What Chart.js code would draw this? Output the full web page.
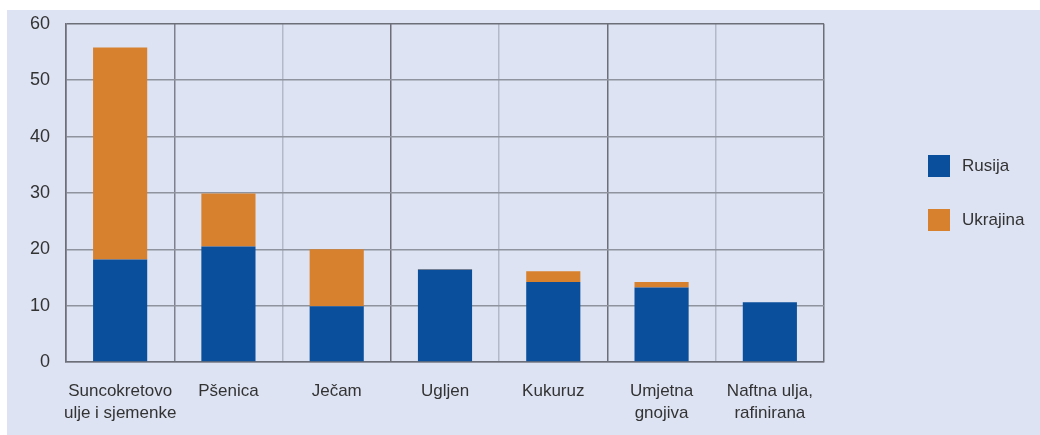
<!DOCTYPE html>
<html>
<head>
<meta charset="utf-8">
<script src="https://cdn.jsdelivr.net/npm/chart.js@4/dist/chart.umd.min.js"></script>
<style>
  html, body { margin: 0; padding: 0; background: #ffffff; }
  #wrap { position: absolute; left: 7px; top: 10px; width: 1033px; height: 425px; background: #dde3f3; overflow: hidden; }
  #c { position: absolute; left: 0; top: -13px; }
  .leg { position: absolute; font-family: "Liberation Sans", Arial, sans-serif; font-size: 17px; color: #333; display: flex; align-items: center; }
  .leg span.box { display: inline-block; width: 22px; height: 22px; margin-right: 12px; }
</style>
</head>
<body>
<div id="wrap">
  <canvas id="c" width="1033" height="438"></canvas>
</div>
<script>
const categories = [
  ["Suncokretovo", "ulje i sjemenke"],
  ["Pšenica"],
  ["Ječam"],
  ["Ugljen"],
  ["Kukuruz"],
  ["Umjetna", "gnojiva"],
  ["Naftna ulja,", "rafinirana"]
];
const rusija   = [18.2, 20.5, 9.9, 16.4, 14.2, 13.2, 10.6];
const ukrajina = [37.6, 9.4, 10.1, 0.1, 1.9, 1.0, 0];
const seriesNames = ["Rusija", "Ukrajina"];
const seriesColors = ["#0a4f9c", "#d7812e"];
const yTicks = [0, 10, 20, 30, 40, 50, 60];

const FONT = "'Liberation Sans', Arial, sans-serif";
const vGridColors = ["#6c6f78", "#7e818b", "#b4b9c7", "#6c6f78", "#b4b9c7", "#6c6f78", "#b4b9c7", "#6c6f78"];

new Chart(document.getElementById('c'), {
  type: 'bar',
  data: {
    labels: categories,
    datasets: [
      { label: seriesNames[0], data: rusija, backgroundColor: seriesColors[0] },
      { label: seriesNames[1], data: ukrajina, backgroundColor: seriesColors[1] }
    ]
  },
  options: {
    responsive: false,
    animation: false,
    layout: { padding: { left: 0, right: 216, top: 0, bottom: 0 } },
    datasets: { bar: { categoryPercentage: 1.0, barPercentage: 0.5 } },
    plugins: { legend: { display: false }, tooltip: { enabled: false } },
    scales: {
      x: {
        stacked: true,
        offset: true,
        grid: {
          offset: true,
          drawTicks: false,
          lineWidth: 1.5,
          color: (ctx) => vGridColors[ctx.index] || "#6c6f78"
        },
        border: { display: true, color: "#6c6f78", width: 1.5 },
        ticks: {
          padding: 19,
          color: "#333333",
          font: { family: FONT, size: 17, lineHeight: 1.25 },
          maxRotation: 0,
          autoSkip: false
        },
        afterFit: (s) => { s.height = 73; }
      },
      y: {
        stacked: true,
        min: 0,
        max: 60,
        afterBuildTicks: (s) => { s.ticks = yTicks.map(v => ({ value: v })); },
        grid: {
          drawTicks: false,
          lineWidth: 1.5,
          color: (ctx) => (ctx.tick && ctx.tick.value === 60) ? "#6c6f78" : "#8f939d"
        },
        border: { display: true, color: "#6c6f78", width: 1.5 },
        ticks: {
          padding: 16,
          color: "#333333",
          font: { family: FONT, size: 18 }
        },
        afterFit: (s) => { s.width = 59; }
      }
    }
  }
});

// legend built from the series arrays
const wrap = document.getElementById('wrap');
const legendTops = [145, 199];
seriesNames.forEach((name, i) => {
  const d = document.createElement('div');
  d.className = 'leg';
  d.style.left = '921px';
  d.style.top = legendTops[i] + 'px';
  const b = document.createElement('span');
  b.className = 'box';
  b.style.background = seriesColors[i];
  d.appendChild(b);
  d.appendChild(document.createTextNode(name));
  wrap.appendChild(d);
});
</script>
</body>
</html>
